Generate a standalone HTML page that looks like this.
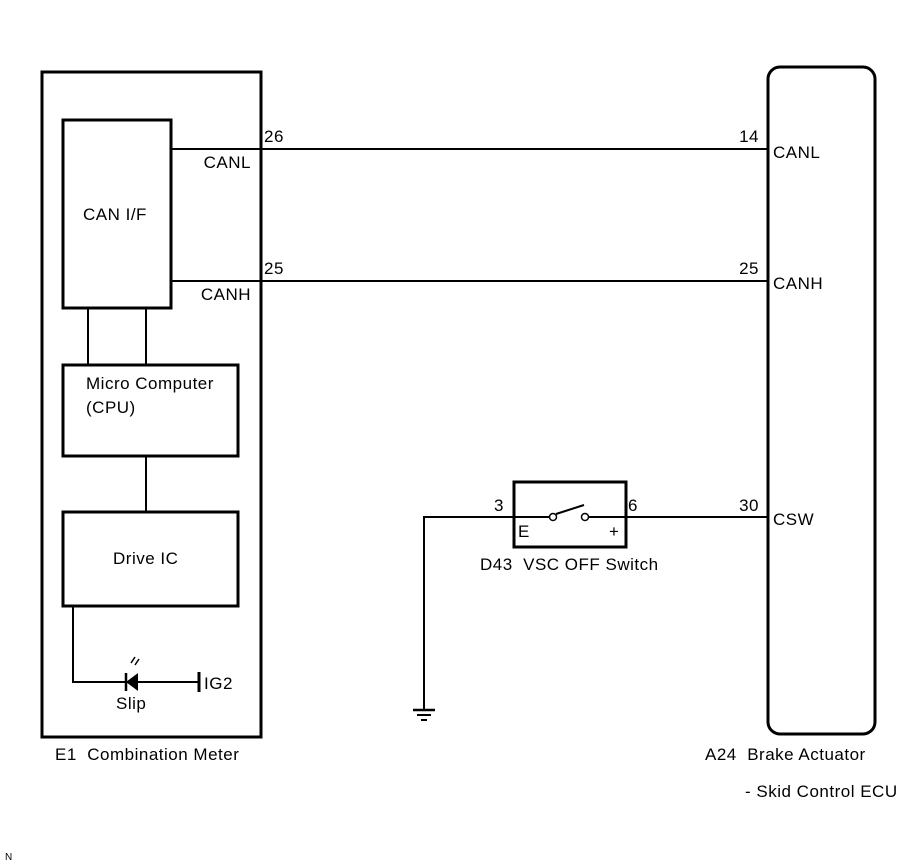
<!DOCTYPE html>
<html><head><meta charset="utf-8"><style>
html,body{margin:0;padding:0;background:#fff;}
svg{display:block}
text{font-family:"Liberation Sans",Arial,sans-serif;font-size:17px;letter-spacing:0.5px;fill:#000}
</style></head><body>
<svg width="907" height="866" viewBox="0 0 907 866" xmlns="http://www.w3.org/2000/svg">
<g fill="none" stroke="#000">
<rect x="42" y="72" width="219" height="665" stroke-width="3"/>
<rect x="63" y="120" width="108" height="188" stroke-width="3"/>
<line x1="88" y1="308" x2="88" y2="365" stroke-width="2"/>
<line x1="146" y1="308" x2="146" y2="365" stroke-width="2"/>
<rect x="63" y="365" width="175" height="91" stroke-width="3"/>
<line x1="146" y1="456" x2="146" y2="512" stroke-width="2"/>
<rect x="63" y="512" width="175" height="94" stroke-width="3"/>
<polyline points="73,606 73,682 199,682" stroke-width="2"/>
<line x1="199" y1="672" x2="199" y2="692" stroke-width="3"/>
<line x1="126" y1="673" x2="126" y2="691" stroke-width="2.5"/>
<line x1="131" y1="663" x2="135" y2="657" stroke-width="1.5"/>
<line x1="135" y1="665" x2="139" y2="659" stroke-width="1.5"/>
<line x1="171" y1="149" x2="768" y2="149" stroke-width="2"/>
<line x1="171" y1="281" x2="768" y2="281" stroke-width="2"/>
<rect x="768" y="67" width="107" height="667" rx="12" stroke-width="3"/>
<rect x="514" y="482" width="112" height="65" stroke-width="3"/>
<polyline points="424,710 424,517 514,517" stroke-width="2"/>
<line x1="514" y1="517" x2="549" y2="517" stroke-width="2"/>
<line x1="589" y1="517" x2="626" y2="517" stroke-width="2"/>
<line x1="626" y1="517" x2="768" y2="517" stroke-width="2"/>
<circle cx="553" cy="517" r="3.5" stroke-width="1.5" fill="#fff"/>
<circle cx="585" cy="517" r="3.5" stroke-width="1.5" fill="#fff"/>
<line x1="556" y1="514" x2="584" y2="505" stroke-width="2"/>
<line x1="413" y1="710" x2="435" y2="710" stroke-width="2.5"/>
<line x1="417" y1="715" x2="431" y2="715" stroke-width="2"/>
<line x1="421" y1="720" x2="427" y2="720" stroke-width="2"/>
</g>
<polygon points="138,673 138,691 126,682" fill="#000"/>
<text x="83" y="220">CAN I/F</text>
<text x="251" y="168" text-anchor="end">CANL</text>
<text x="251" y="300" text-anchor="end">CANH</text>
<text x="264" y="142">26</text>
<text x="264" y="274">25</text>
<text x="86" y="389">Micro Computer</text>
<text x="86" y="413">(CPU)</text>
<text x="113" y="564">Drive IC</text>
<text x="116" y="709">Slip</text>
<text x="204" y="689">IG2</text>
<text x="55" y="760">E1&#160;&#160;Combination Meter</text>
<text x="759" y="142" text-anchor="end">14</text>
<text x="759" y="274" text-anchor="end">25</text>
<text x="759" y="511" text-anchor="end">30</text>
<text x="773" y="158">CANL</text>
<text x="773" y="289">CANH</text>
<text x="773" y="525">CSW</text>
<text x="494" y="511">3</text>
<text x="628" y="511">6</text>
<text x="518" y="537">E</text>
<text x="609" y="537">+</text>
<text x="480" y="570">D43&#160;&#160;VSC OFF Switch</text>
<text x="705" y="760">A24&#160;&#160;Brake Actuator</text>
<text x="745" y="797">- Skid Control ECU</text>
<text x="5" y="860" style="font-size:10px;letter-spacing:0">N</text>
</svg>
</body></html>
